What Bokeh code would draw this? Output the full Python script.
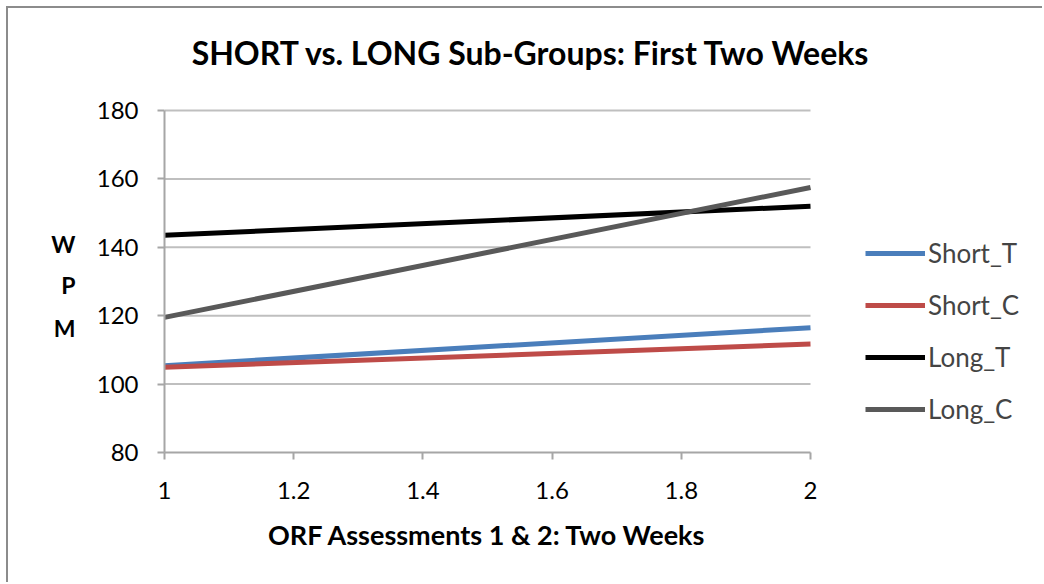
from bokeh.plotting import figure
from bokeh.models import Range1d, FixedTicker, Legend, LegendItem, Label, LinearAxis
from bokeh.embed import file_html
from bokeh.resources import INLINE

# ---- data ----
x_vals = [1, 2]
short_t = [105.4, 116.5]
short_c = [104.9, 111.7]
long_t = [143.5, 152.0]
long_c = [119.5, 157.5]
series_names = ["Short_T", "Short_C", "Long_T", "Long_C"]
series_colors = ["#4a7ebb", "#be4b48", "#000000", "#595959"]
x_ticks = [1, 1.2, 1.4, 1.6, 1.8, 2]
x_tick_labels = ["1", "1.2", "1.4", "1.6", "1.8", "2"]
y_ticks = [80, 100, 120, 140, 160, 180]
title_text = "SHORT vs. LONG Sub-Groups: First Two Weeks"
x_title = "ORF Assessments 1 & 2: Two Weeks"
y_title_letters = ["W", "P", "M"]
y_title_pos = [141.1, 129.1, 116.3]

FONT = "Lato"
X_MIN, X_MAX = x_ticks[0], x_ticks[-1]
Y_MIN, Y_MAX = y_ticks[0], y_ticks[-1]
# frame extends right (legend) and up (title); axes & grid are bounded to the data box
X_VIEW_END = X_MIN + (X_MAX - X_MIN) * 880 / 646
Y_VIEW_END = Y_MAX + (Y_MAX - Y_MIN) * 102 / 342

p = figure(width=1036, height=576, output_backend="svg", toolbar_location=None,
           x_range=Range1d(X_MIN, X_VIEW_END), y_range=Range1d(Y_MIN, Y_VIEW_END),
           min_border_left=156, min_border_right=0, min_border_top=0, min_border_bottom=132)
p.outline_line_color = None
p.background_fill_color = "white"
p.border_fill_color = "white"
p.styles = {"margin-left": "6px", "margin-top": "6px",
            "border-left": "2px solid #8c8c8c", "border-top": "2px solid #8c8c8c"}

# axes
p.xaxis.ticker = FixedTicker(ticks=x_ticks)
p.xaxis.major_label_overrides = dict(zip(x_ticks, x_tick_labels))
p.xaxis.bounds = (X_MIN, X_MAX)
p.yaxis.ticker = FixedTicker(ticks=y_ticks)
p.yaxis.bounds = (Y_MIN, Y_MAX)
for ax in (p.xaxis, p.yaxis):
    ax.axis_line_color = "#a6a6a6"
    ax.axis_line_width = 2
    ax.major_tick_line_color = "#a6a6a6"
    ax.major_tick_line_width = 2
    ax.major_tick_out = 7
    ax.major_tick_in = 0
    ax.minor_tick_line_color = None
    ax.major_label_text_font = FONT
    ax.major_label_text_font_size = "24px"
    ax.major_label_text_color = "#000000"
p.xaxis.major_label_standoff = 22
p.yaxis.major_label_standoff = 19

# axis titles as label-only axes (so they centre on the data box, not the frame)
x_title_pos = (X_MIN + X_MAX) / 2
xt = LinearAxis(ticker=FixedTicker(ticks=[x_title_pos]),
                major_label_overrides={x_title_pos: x_title},
                axis_line_color=None, major_tick_line_color=None, minor_tick_line_color=None,
                major_tick_out=0, major_tick_in=0, major_label_standoff=16,
                major_label_text_font=FONT, major_label_text_font_style="bold",
                major_label_text_font_size="27px", major_label_text_color="#000000")
p.add_layout(xt, "below")

yt = LinearAxis(ticker=FixedTicker(ticks=y_title_pos),
                major_label_overrides=dict(zip(y_title_pos, y_title_letters)),
                axis_line_color=None, major_tick_line_color=None, minor_tick_line_color=None,
                major_tick_out=0, major_tick_in=0, major_label_standoff=18,
                major_label_text_font=FONT, major_label_text_font_style="bold",
                major_label_text_font_size="23px", major_label_text_color="#000000")
p.add_layout(yt, "left")

# horizontal gridlines limited to the data x-extent
p.xgrid.grid_line_color = None
p.ygrid.grid_line_color = None
grid_y = y_ticks[1:]
p.segment(x0=[X_MIN] * len(grid_y), x1=[X_MAX] * len(grid_y), y0=grid_y, y1=grid_y,
          line_color="#bfbfbf", line_width=2)

items = []
for name, color, ys in zip(series_names, series_colors, [short_t, short_c, long_t, long_c]):
    r = p.line(x_vals, ys, line_color=color, line_width=5)
    items.append(LegendItem(label=name, renderers=[r]))

legend = Legend(items=items, location=(701, 27), border_line_color=None,
                background_fill_alpha=0, padding=0, margin=0,
                glyph_width=60, glyph_height=30, label_height=30, spacing=20,
                label_standoff=3, label_text_font=FONT, label_text_font_size="26px")
p.add_layout(legend, "center")

# chart title (inside the extended frame, above the data box)
title_x = X_MIN + (X_MAX - X_MIN) * (531 - 164) / 646
title_y = Y_MAX + (Y_MAX - Y_MIN) * (110 - 52) / 342
p.add_layout(Label(x=title_x, y=title_y, text=title_text, text_align="center",
                   text_baseline="middle", text_font=FONT, text_font_style="bold",
                   text_font_size="32px", text_color="#000000"))

open("out.html", "w").write(file_html(p, INLINE))
